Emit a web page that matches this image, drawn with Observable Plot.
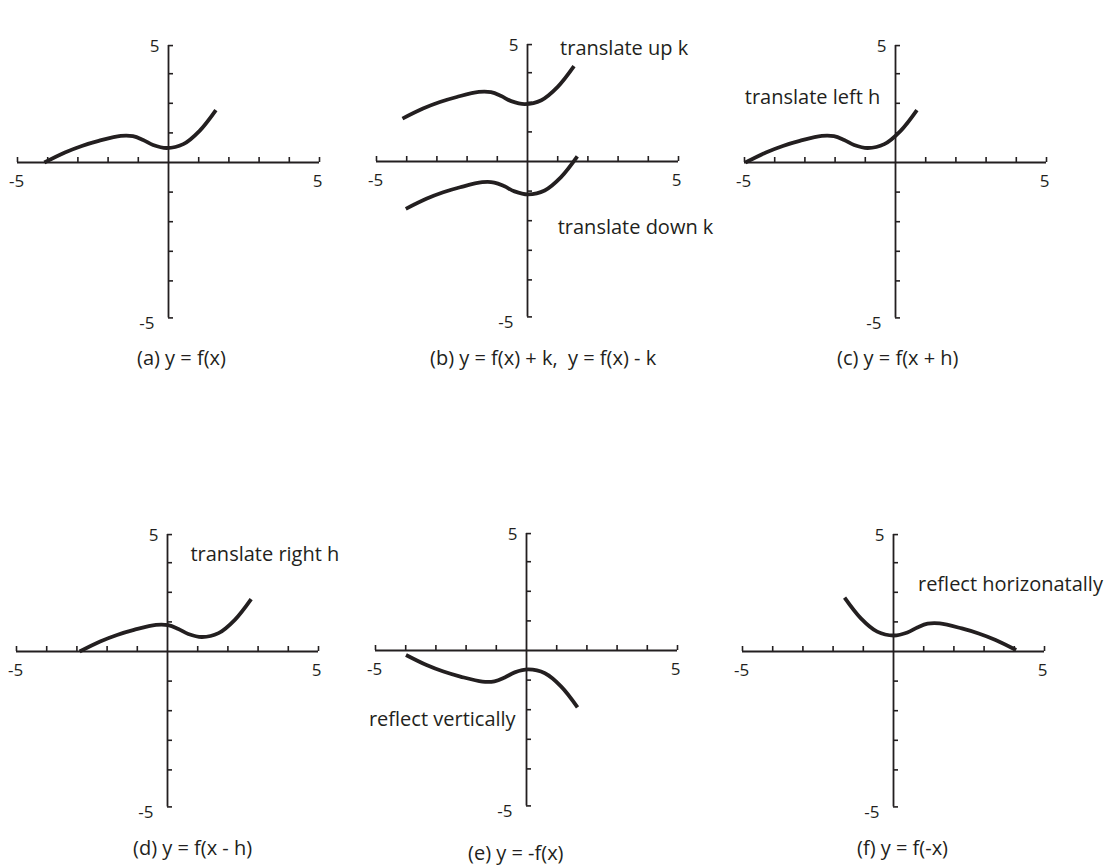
<!DOCTYPE html>
<html><head><meta charset="utf-8">
<script src="https://cdn.jsdelivr.net/npm/d3@7"></script>
<script src="https://cdn.jsdelivr.net/npm/@observablehq/plot@0.6"></script>
<style>
body{margin:0;background:#fff;}
#chart{position:relative;width:1107px;height:867px;overflow:hidden;font-family:"Open Sans",sans-serif;color:#231f20;background:#fff;}
.panel{position:absolute;width:430px;height:340px;}
.panel svg{overflow:visible;max-width:none !important;}
.caption{position:absolute;font-size:20px;white-space:pre;line-height:1;transform:translateY(-50%);}
</style></head><body><div id="chart"></div>
<script>
// ---- data ----
// base curve y = f(x)
const fX = [-4.11,-3.43,-2.87,-2.31,-1.58,-1.18,-0.84,-0.51,-0.06,0.49,1.03,1.57];
const fY = [0,0.34,0.56,0.73,0.90,0.89,0.76,0.59,0.49,0.62,1.07,1.77];
// axes
const xTicks = [-5,-4,-3,-2,-1,1,2,3,4,5];
const yTicks = [-5.25,-4,-3,-2,-1,1,2,3,3.95];
const xEnds = [-5,5];
const yEnds = [-5.25,3.95];
const endLabels = ["-5","5"];
// panels
const panelIds = ["a","b","c","d","e","f"];
const captions = ["(a) y = f(x)","(b) y = f(x) + k,  y = f(x) - k","(c) y = f(x + h)","(d) y = f(x - h)","(e) y = -f(x)","(f) y = f(-x)"];
// each drawn curve: x' = sx*x + dx, y' = sy*f(x) + dy (shifts)
const curvePanel = ["a","b","b","c","d","e","f"];
const curveSx = [1,1,1,1,1,1,-1];
const curveDx = [0,-0.03,0.08,-0.86,1.2,0.12,-0.05];
const curveSy = [1,1,1,1,1,-1,1];
const curveDy = [0,1.45,-1.6,0,0,-0.15,0.05];
// annotations
const notePanel = ["b","b","c","d","e","f"];
const noteText = ["translate up k","translate down k","translate left h","translate right h","reflect vertically","reflect horizonatally"];
const noteX = [1.08,1.0,-4.99,0.76,-0.36,0.81];
const noteY = [3.82,-2.24,2.19,3.27,-2.32,2.25];
const noteAnchor = ["start","start","start","start","end","start"];

// ---- layout ----
const ink = "#231f20";
const font = "'Open Sans', sans-serif";
const ux = 30.2, uy = 29.6;
const origins = {a:[168.3,161.7], b:[526.7,161], c:[895,161.7], d:[166.7,651], e:[525.7,650], f:[893.3,651]};
const capPos = {a:[137,358], b:[430,358], c:[837,358], d:[133,848], e:[468,853], f:[857,848]};
const OX = 180, OY = 140, W = 430, H = 340;

const chart = document.getElementById("chart");

panelIds.forEach((id, pi) => {
  const [ox, oy] = origins[id];
  const pts = [];
  curvePanel.forEach((p, ci) => {
    if (p !== id) return;
    fX.forEach((x, i) => pts.push({series: ci, x: curveSx[ci]*x + curveDx[ci], y: curveSy[ci]*fY[i] + curveDy[ci]}));
  });
  const notes = noteText.map((t, i) => ({panel: notePanel[i], text: t, x: noteX[i], y: noteY[i], anchor: noteAnchor[i]}))
    .filter(n => n.panel === id);
  const tkX = 5/uy, tkY = 5/ux;
  const svg = Plot.plot({
    width: W, height: H, margin: 0,
    x: {domain: [-5,5], range: [OX-5*ux, OX+5*ux], axis: null},
    y: {domain: [-5,5], range: [OY+5*uy, OY-5*uy], axis: null},
    style: {overflow: "visible", fontFamily: font, color: ink, background: "transparent", maxWidth: "none"},
    marks: [
      Plot.ruleY([0], {x1: xEnds[0], x2: xEnds[1], stroke: ink, strokeWidth: 1.8}),
      Plot.ruleX([0], {y1: yEnds[0], y2: yEnds[1], stroke: ink, strokeWidth: 1.8}),
      Plot.ruleX(xTicks, {x: d => d, y1: 0, y2: tkX, stroke: ink, strokeWidth: 1.6}),
      Plot.ruleY(yTicks, {y: d => d, x1: 0, x2: tkY, stroke: ink, strokeWidth: 1.6}),
      Plot.line(pts, {x: "x", y: "y", z: "series", curve: "catmull-rom", stroke: ink, strokeWidth: 3.8, strokeLinecap: "butt"}),
      Plot.text([xEnds[0]], {x: d => d, y: 0, text: () => endLabels[0], dx: -1, dy: 19, fontSize: 17, fill: ink}),
      Plot.text([xEnds[1]], {x: d => d, y: 0, text: () => endLabels[1], dx: -2, dy: 19, fontSize: 17, fill: ink}),
      Plot.text([yEnds[1]], {x: 0, y: d => d, text: () => endLabels[1], textAnchor: "end", dx: -9, dy: 1, fontSize: 17, fill: ink}),
      Plot.text([yEnds[0]], {x: 0, y: d => d, text: () => endLabels[0], textAnchor: "end", dx: -14, dy: 6, fontSize: 17, fill: ink}),
      ...notes.map(n => Plot.text([n], {x: "x", y: "y", text: "text", textAnchor: n.anchor, fontSize: 20, fill: ink}))
    ]
  });
  const div = document.createElement("div");
  div.className = "panel";
  div.style.left = (ox - OX) + "px";
  div.style.top = (oy - OY) + "px";
  div.appendChild(svg);
  chart.appendChild(div);

  const cap = document.createElement("div");
  cap.className = "caption";
  cap.textContent = captions[pi];
  cap.style.left = capPos[id][0] + "px";
  cap.style.top = capPos[id][1] + "px";
  chart.appendChild(cap);
});
</script>
</body></html>
